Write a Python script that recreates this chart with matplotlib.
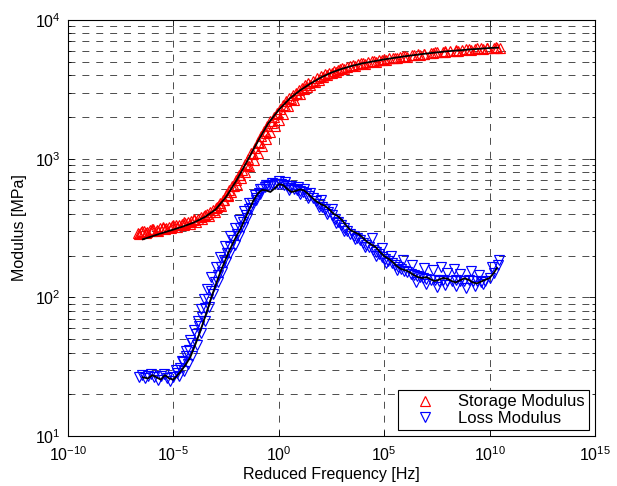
import matplotlib
matplotlib.use("Agg")
import matplotlib.pyplot as plt
import numpy as np
from matplotlib.ticker import LogLocator, NullLocator, NullFormatter

plt.rcParams['font.family'] = ['Liberation Sans', 'DejaVu Sans']
plt.rcParams['mathtext.default'] = 'regular'
plt.rcParams['lines.scale_dashes'] = False

# --- measured storage modulus (log10 of reduced freq, MPa) ---
storage_logf = [-6.70, -6.55, -6.40, -6.25, -6.10, -5.95, -5.80, -5.65, -5.50, -5.35,
                -5.20, -5.05, -4.90, -4.75, -4.60, -4.45, -4.30, -4.15, -4.00, -3.85,
                -3.70, -3.55, -3.40, -3.25, -3.10, -2.95, -2.80, -2.65, -2.50, -2.35,
                -2.20, -2.05, -1.90, -1.75, -1.60, -1.45, -1.30, -1.15, -1.00, -0.85,
                -0.70, -0.55, -0.40, -0.25, -0.10, 0.05, 0.20, 0.35, 0.50, 0.65,
                0.80, 0.95, 1.10, 1.25, 1.40, 1.60, 1.80, 2.00, 2.20, 2.40,
                2.60, 2.80, 3.00, 3.25, 3.50, 3.75, 4.00, 4.25, 4.50, 4.75,
                5.00, 5.25, 5.50, 5.75, 6.00, 6.30, 6.60, 6.90, 7.20, 7.50,
                7.80, 8.10, 8.40, 8.70, 9.00, 9.30, 9.60, 9.90, 10.20, 10.50,
                -6.62, -6.30, -6.02, -5.72, -5.42, -5.12, -4.82, -4.52, -4.22, -3.92,
                -3.62, -3.32, -3.02, -2.72, -2.42, -2.12, -1.82, -1.52, -1.22, -0.92,
                -0.62, -0.32, -0.02, 0.28, 0.58, 0.88, 1.18, 1.50, 1.90, 2.30,
                2.70, 3.10, 3.60, 4.10, 4.60, 5.10, 5.60, 6.10, 6.70, 7.30,
                7.90, 8.50, 9.10, 9.70, 10.35,
                -6.50, -6.00, -5.50, -5.00, -4.50, -4.00, -3.50, -3.00, -2.85, -2.60,
                -2.40, -2.25, -2.00, -1.80, -1.60, -1.40, -1.20, -1.00, -0.80, -0.60,
                -0.40, -0.20, 0.00, 0.20, 0.45, 0.70, 1.00, 1.35, 1.70, 2.10,
                2.50, 2.90, 3.40, 3.90, 4.40, 4.90, 5.40, 5.90, 6.40, 6.90,
                7.40, 7.90, 8.40, 8.90, 9.40, 9.90, 10.30]
storage_E = [292, 296, 300, 298, 305, 309, 306, 314, 318, 315,
             322, 327, 330, 334, 340, 344, 350, 356, 362, 370,
             378, 388, 398, 412, 428, 448, 475, 505, 545, 590,
             640, 700, 760, 830, 910, 990, 1090, 1200, 1320, 1450,
             1580, 1720, 1860, 2000, 2150, 2300, 2450, 2600, 2750, 2880,
             3000, 3120, 3250, 3380, 3500, 3650, 3800, 3930, 4050, 4170,
             4280, 4380, 4480, 4600, 4700, 4800, 4900, 4980, 5060, 5140,
             5220, 5290, 5360, 5430, 5500, 5580, 5650, 5720, 5790, 5850,
             5910, 5970, 6020, 6080, 6130, 6180, 6230, 6280, 6320, 6300,
             285, 292, 300, 303, 312, 318, 322, 331, 340, 352,
             365, 385, 410, 455, 540, 640, 760, 900, 1080, 1300,
             1540, 1800, 2100, 2400, 2680, 2930, 3170, 3420, 3720, 3980,
             4220, 4420, 4640, 4840, 5000, 5160, 5320, 5450, 5600, 5740,
             5870, 5980, 6100, 6200, 6260,
             300, 312, 322, 335, 350, 368, 395, 440, 460, 500,
             545, 575, 650, 720, 800, 880, 980, 1100, 1230, 1380,
             1550, 1720, 1900, 2100, 2380, 2650, 2950, 3280, 3580, 3900,
             4180, 4420, 4650, 4860, 5030, 5180, 5330, 5460, 5600, 5730,
             5850, 5960, 6060, 6160, 6240, 6310, 6380]

# --- measured loss modulus ---
loss_logf = [-6.65, -6.50, -6.35, -6.20, -6.05, -5.90, -5.75, -5.60, -5.45, -5.30,
             -5.15, -5.00, -4.85, -4.70, -4.55, -4.40, -4.25, -4.10, -3.95, -3.80,
             -3.65, -3.50, -3.35, -3.20, -3.05, -2.90, -2.75, -2.60, -2.45, -2.30,
             -2.15, -2.00, -1.85, -1.70, -1.55, -1.40, -1.25, -1.10, -0.95, -0.80,
             -0.65, -0.50, -0.35, -0.20, -0.05, 0.10, 0.25, 0.40, 0.55, 0.70,
             0.85, 1.00, 1.15, 1.30, 1.45, 1.60, 1.75, 1.90, 2.05, 2.20,
             2.35, 2.50, 2.65, 2.80, 2.95, 3.10, 3.25, 3.40, 3.55, 3.70,
             3.85, 4.00, 4.15, 4.30, 4.45, 4.60, 4.75, 4.90, 5.05, 5.20,
             5.35, 5.50, 5.65, 5.80, 5.95, 6.10, 6.25, 6.40, 6.55, 6.70,
             6.85, 7.00, 7.20, 7.40, 7.60, 7.80, 8.00, 8.20, 8.40, 8.60,
             8.80, 9.00, 9.20, 9.40, 9.60, 9.80, 10.00, 10.20, 10.40,
             -4.90, -4.60, -4.40, -4.20, -4.00, -3.85, -3.70, -3.55, -3.40, -3.20,
             -3.00, -2.80, -2.55, -2.30, -2.10, -1.90, -1.65, -1.40, -1.15, -0.90,
             -0.60, -0.30,
             -4.75, -4.50, -4.30, -4.10, -3.90, -3.70, -3.50, -3.30, -3.10, -2.90,
             -2.70, -2.50, -2.30, -2.10, -1.90, -1.70, -1.50, -1.30, -1.10, -0.90,
             0.00, 0.30, 0.60, 0.90, 1.20, 1.50, 2.00, 2.50,
             0.50, 1.00, 1.40, 1.90, 2.30, 2.70, 3.10, 3.60, 4.10, 4.60, 5.10, 5.60,
             4.40, 4.90, 5.30, 5.90, 6.30, 6.90, 7.30, 7.70, 8.00, 8.30,
             8.60, 9.10, 9.50, 10.10, 10.45,
             6.50, 7.00, 7.50, 7.90, 8.40, 8.90, 9.30, 9.70]
loss_E = [26.5, 27.5, 26.0, 27.0, 28.0, 26.5, 25.5, 27.0, 28.0, 26.0,
          25.0, 26.5, 28.5, 31.0, 34.0, 37.5, 42.0, 47.0, 54.0, 62.0,
          72.0, 84.0, 97.0, 112, 128, 146, 165, 186, 208, 232,
          258, 285, 315, 350, 390, 430, 475, 520, 565, 600,
          625, 640, 650, 655, 660, 655, 645, 630, 615, 600,
          590, 585, 575, 560, 540, 520, 495, 470, 450, 430,
          410, 390, 370, 350, 330, 315, 300, 288, 277, 268,
          258, 248, 240, 230, 220, 212, 204, 196, 189, 182,
          176, 170, 165, 160, 156, 152, 148, 145, 143, 140,
          138, 136, 134, 133, 132, 133, 132, 131, 133, 132,
          131, 133, 132, 131, 130, 132, 138, 150, 172,
          30, 35, 41, 49, 58, 68, 82, 97, 114, 140,
          165, 195, 235, 275, 315, 360, 420, 480, 545, 600,
          645, 670,
          27, 29.5, 33, 38, 45, 55, 68, 85, 105, 128,
          152, 180, 210, 240, 275, 320, 375, 440, 505, 555,
          690, 675, 640, 620, 605, 570, 500, 430,
          590, 560, 520, 450, 400, 345, 300, 262, 232, 200, 178, 158,
          270, 225, 200, 185, 170, 162, 158, 165, 150, 160,
          148, 155, 145, 165, 185,
          130, 124, 118, 122, 120, 117, 121, 124]

# --- fitted curves ---
storage_fit_logf = [-6.45, -6.0, -5.5, -5.0, -4.5, -4.0, -3.5, -3.0, -2.5, -2.0,
                    -1.5, -1.0, -0.5, 0.0, 0.5, 1.0, 1.5, 2.0, 2.5, 3.0,
                    3.5, 4.0, 5.0, 6.0, 7.0, 8.0, 9.0, 10.0, 10.4]
storage_fit_E = [262, 276, 292, 308, 326, 348, 380, 430, 530, 700,
                 960, 1330, 1800, 2250, 2700, 3100, 3480, 3850, 4180, 4450,
                 4680, 4880, 5200, 5480, 5730, 5950, 6120, 6280, 6320]

loss_fit_logf = [-6.45, -6.2, -6.0, -5.8, -5.6, -5.4, -5.2, -5.0, -4.8, -4.6,
                 -4.4, -4.2, -4.0, -3.8, -3.6, -3.4, -3.2, -3.0, -2.8, -2.6,
                 -2.4, -2.2, -2.0, -1.8, -1.6, -1.4, -1.2, -1.0, -0.8, -0.6,
                 -0.4, -0.2, 0.0, 0.2, 0.4, 0.6, 0.8, 1.0, 1.2, 1.4,
                 1.6, 1.8, 2.0, 2.2, 2.4, 2.6, 2.8, 3.0, 3.2, 3.4,
                 3.6, 3.8, 4.0, 4.2, 4.4, 4.6, 4.8, 5.0, 5.2, 5.4,
                 5.6, 5.8, 6.0, 6.2, 6.4, 6.6, 6.8, 7.0, 7.2, 7.4,
                 7.6, 7.8, 8.0, 8.2, 8.4, 8.6, 8.8, 9.0, 9.2, 9.4,
                 9.6, 9.8, 10.0, 10.2, 10.35]
loss_fit_E = [26.5, 26.0, 27.5, 26.5, 25.5, 27.5, 26.0, 25.5, 27.5, 30.0,
              33, 37, 44, 53, 65, 80, 100, 122, 148, 176,
              208, 242, 278, 315, 370, 430, 500, 560, 595, 590,
              575, 610, 655, 645, 605, 575, 585, 600, 590, 555,
              520, 490, 470, 455, 430, 400, 385, 360, 330, 305,
              295, 285, 268, 250, 240, 230, 212, 198, 190, 180,
              168, 160, 157, 152, 145, 140, 138, 140, 135, 131,
              134, 138, 136, 131, 128, 133, 137, 134, 128, 126,
              130, 134, 138, 150, 163]

x_ticks = [1e-10, 1e-5, 1e0, 1e5, 1e10, 1e15]

fig = plt.figure(figsize=(6.17, 4.86), dpi=100)
ax = fig.add_axes([68 / 617, 1 - 436 / 486, 527 / 617, 416 / 486])

ax.plot(10.0 ** np.array(storage_logf), storage_E, linestyle='none', marker='^',
        markersize=6.5, markerfacecolor='none', markeredgecolor='r',
        markeredgewidth=0.85, label='Storage Modulus')
ax.plot(10.0 ** np.array(loss_logf), loss_E, linestyle='none', marker='v',
        markersize=6.5, markerfacecolor='none', markeredgecolor='b',
        markeredgewidth=0.85, label='Loss Modulus')
ax.plot(10.0 ** np.array(storage_fit_logf), storage_fit_E, color='k', lw=1.3)
ax.plot(10.0 ** np.array(loss_fit_logf), loss_fit_E, color='k', lw=1.3)

ax.set_xscale('log')
ax.set_yscale('log')
ax.set_xlim(1e-10, 1e15)
ax.set_ylim(10, 1e4)
ax.set_xticks(x_ticks)
ax.xaxis.set_minor_locator(NullLocator())
ax.yaxis.set_minor_locator(LogLocator(base=10, subs=np.arange(2, 10)))
ax.yaxis.set_minor_formatter(NullFormatter())

ax.tick_params(which='both', direction='in', top=True, right=True,
               labelsize=11.5, width=0.6)
ax.tick_params(which='major', length=4)
ax.tick_params(which='minor', length=2.5)
ax.tick_params(axis='x', pad=7)
ax.tick_params(axis='y', pad=5)

grid_kw = dict(color='0.25', linestyle=(0, (5, 5)), linewidth=0.65)
ax.grid(True, which='major', axis='x', **grid_kw)
ax.grid(True, which='both', axis='y', **grid_kw)

for s in ax.spines.values():
    s.set_linewidth(0.8)

ax.set_xlabel('Reduced Frequency [Hz]', fontsize=11.5, labelpad=2)
ax.set_ylabel('Modulus [MPa]', fontsize=11.5, labelpad=6)

leg = ax.legend(loc='lower right', fontsize=12, fancybox=False, framealpha=1,
                edgecolor='k', borderaxespad=0.35, handletextpad=0.6,
                labelspacing=0.1, borderpad=0.25, handlelength=2.8)
leg.get_frame().set_linewidth(0.8)

fig.savefig('out.png', dpi=100)
